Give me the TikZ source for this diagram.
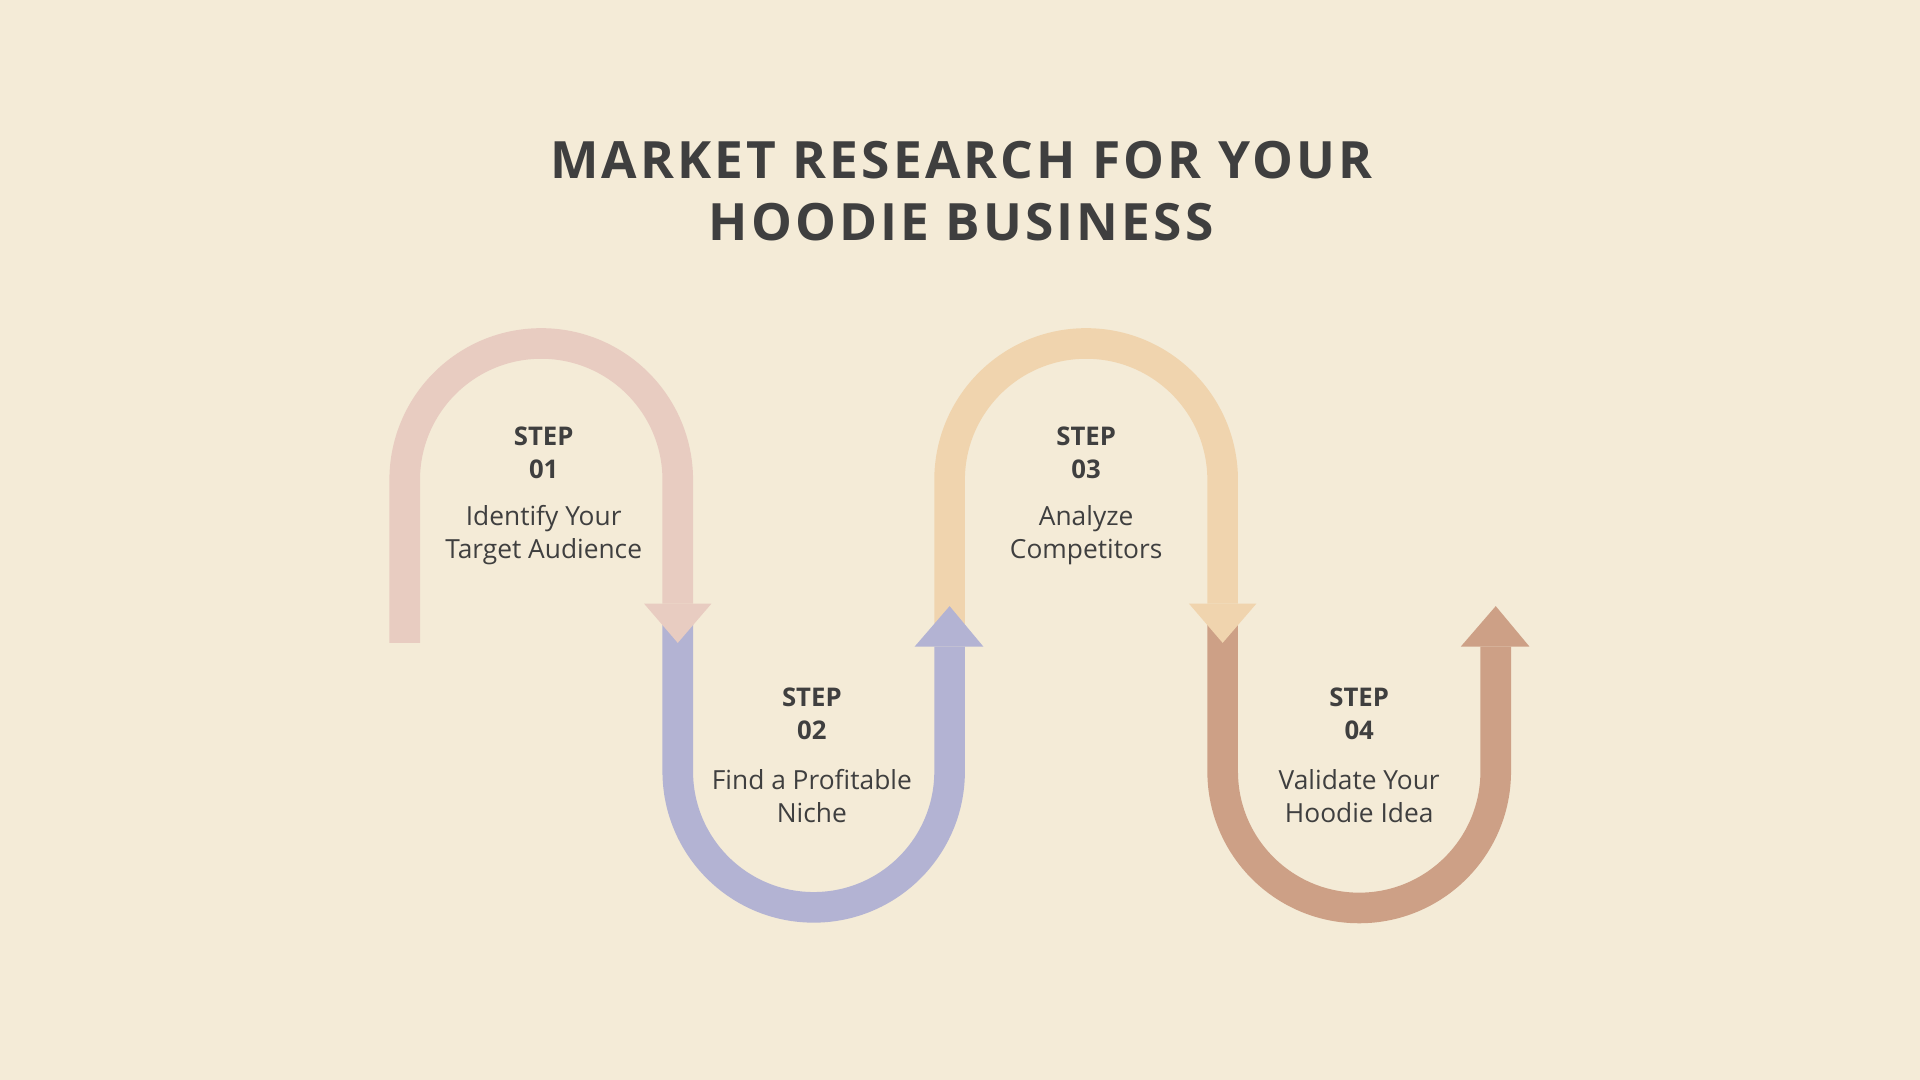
\documentclass[tikz,border=0pt]{standalone}
\usepackage{fontspec}
\setmainfont{Open Sans}
\newfontfamily\titlefont[LetterSpace=6]{Open Sans}
\definecolor{bg}{HTML}{F4EBD7}
\definecolor{ink}{HTML}{3F3F3F}
\definecolor{cpink}{HTML}{E8CCC1}
\definecolor{cpurple}{HTML}{B3B3D3}
\definecolor{cyellow}{HTML}{F0D4AE}
\definecolor{cbrown}{HTML}{CDA086}
\begin{document}
\begin{tikzpicture}[x=1pt,y=-1pt,
  band/.style={line width=25pt},
  steplbl/.style={text=ink,font=\bfseries\fontsize{21}{27}\selectfont,align=center},
  body/.style={text=ink,font=\fontsize{21.5}{27}\selectfont,align=center}]
\fill[bg] (0,0) rectangle (1568,882);
\useasboundingbox (0,0) rectangle (1568,882);
% bands
\draw[band,cpink] (330.5,525) -- (330.5,392) arc[start angle=180,end angle=360,radius=111.5] -- (553.5,493);
\draw[band,cpurple] (553.5,510) -- (553.5,630) arc[start angle=180,end angle=0,radius=111] -- (775.5,528);
\draw[band,cyellow] (775.5,510) -- (775.5,392) arc[start angle=180,end angle=360,radius=111.5] -- (998.5,493);
\draw[band,cbrown] (998.5,510) -- (998.5,630) arc[start angle=180,end angle=0,radius=111.5] -- (1221.5,528);
% arrowheads
\fill[cpink] (526,493) -- (581,493) -- (553.5,525) -- cycle;
\fill[cpurple] (747,528) -- (803,528) -- (775.5,495) -- cycle;
\fill[cyellow] (971,493) -- (1026,493) -- (998.5,525) -- cycle;
\fill[cbrown] (1193,528) -- (1249,528) -- (1221.5,495) -- cycle;
% title
\node[text=ink,font=\titlefont\bfseries\fontsize{42}{50}\selectfont,align=center] (title) at (785,156) {MARKET RESEARCH FOR YOUR\\HOODIE BUSINESS};
% labels
\node[steplbl] (s1) at (444,370) {STEP\\01};
\node[body] (t1) at (444,437) {Identify Your\\Target Audience};
\node[steplbl] (s2) at (663,583) {STEP\\02};
\node[body] (t2) at (663,650) {Find a Profitable\\Niche};
\node[steplbl] (s3) at (887,370) {STEP\\03};
\node[body] (t3) at (887,437) {Analyze\\Competitors};
\node[steplbl] (s4) at (1110,583) {STEP\\04};
\node[body] (t4) at (1110,650) {Validate Your\\Hoodie Idea};
\end{tikzpicture}
\end{document}
